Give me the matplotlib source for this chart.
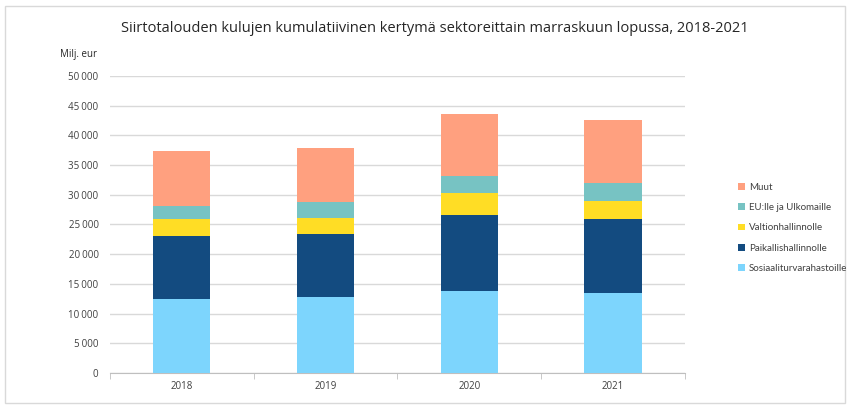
"""
Siirtotalouden kulujen kumulatiivinen kertymä sektoreittain, stacked bars.
"""
import numpy as np
import matplotlib
matplotlib.use("Agg")
import matplotlib.pyplot as plt
from matplotlib.ticker import FuncFormatter, FixedLocator
from matplotlib.patches import Rectangle

plt.rcParams["font.family"] = ["Open Sans", "DejaVu Sans"]

years = ["2018", "2019", "2020", "2021"]
series_names = ["Sosiaaliturvarahastoille", "Paikallishallinnolle",
                "Valtionhallinnolle", "EU:lle ja Ulkomaille", "Muut"]
sosiaali = [12400, 12800, 13750, 13450]
paikallis = [10600, 10600, 12850, 12450]
valtio = [2900, 2700, 3700, 3100]
eu_ulko = [2200, 2600, 2800, 2900]
muut = [9200, 9200, 10450, 10600]
colors = ["#7dd5fd", "#134b80", "#ffdd25", "#77c3c3", "#ffa07f"]

fig = plt.figure(figsize=(8.5, 4.07), dpi=100)
ax = fig.add_axes([0.129, 0.0835, 0.677, 0.73])

x = np.arange(len(years))
bottom = np.zeros(len(years))
handles = []
for vals, name, c in zip([sosiaali, paikallis, valtio, eu_ulko, muut],
                         series_names, colors):
    h = ax.bar(x, vals, 0.4, bottom=bottom, color=c, label=name, zorder=3)
    handles.append(h)
    bottom += np.array(vals)

ax.set_xlim(-0.5, len(years) - 0.5)
ax.set_ylim(0, 50000)
ax.set_yticks(np.arange(0, 50001, 5000))
ax.yaxis.set_major_formatter(FuncFormatter(lambda v, p: f"{int(v):,}".replace(",", "\u202f")))
ax.grid(axis="y", color="#d9d9d9", linewidth=1, zorder=0)
for s in ["top", "right", "left"]:
    ax.spines[s].set_visible(False)
ax.spines["bottom"].set_color("#bfbfbf")
ax.tick_params(axis="y", length=0, labelsize=7, colors="#404040", pad=8)
ax.set_xticks(x)
ax.set_xticklabels(years)
ax.tick_params(axis="x", length=0, labelsize=7, colors="#404040", pad=6)
ax.xaxis.set_minor_locator(FixedLocator(np.arange(-0.5, len(years), 1.0)))
ax.tick_params(axis="x", which="minor", length=4, color="#bfbfbf")

fig.text(0.512, 0.93, "Siirtotalouden kulujen kumulatiivinen kertymä sektoreittain "
         "marraskuun lopussa, 2018-2021", ha="center", va="center",
         fontsize=10.5, color="#262626")
fig.text(0.07, 0.865, "Milj. eur", ha="left", va="center", fontsize=7, color="#262626")

leg = fig.legend(handles[::-1], series_names[::-1], loc="center left",
                 bbox_to_anchor=(0.858, 0.44), frameon=False,
                 prop={"family": ["Lato", "DejaVu Sans"], "size": 7},
                 handlelength=0.7, handleheight=0.7, labelspacing=1.15,
                 handletextpad=0.4, labelcolor="#404040")

fig.patches.append(Rectangle((0.006, 0.01), 0.988, 0.975, transform=fig.transFigure,
                             fill=False, edgecolor="#d9d9d9", linewidth=1))

fig.savefig("out.png", dpi=100)
